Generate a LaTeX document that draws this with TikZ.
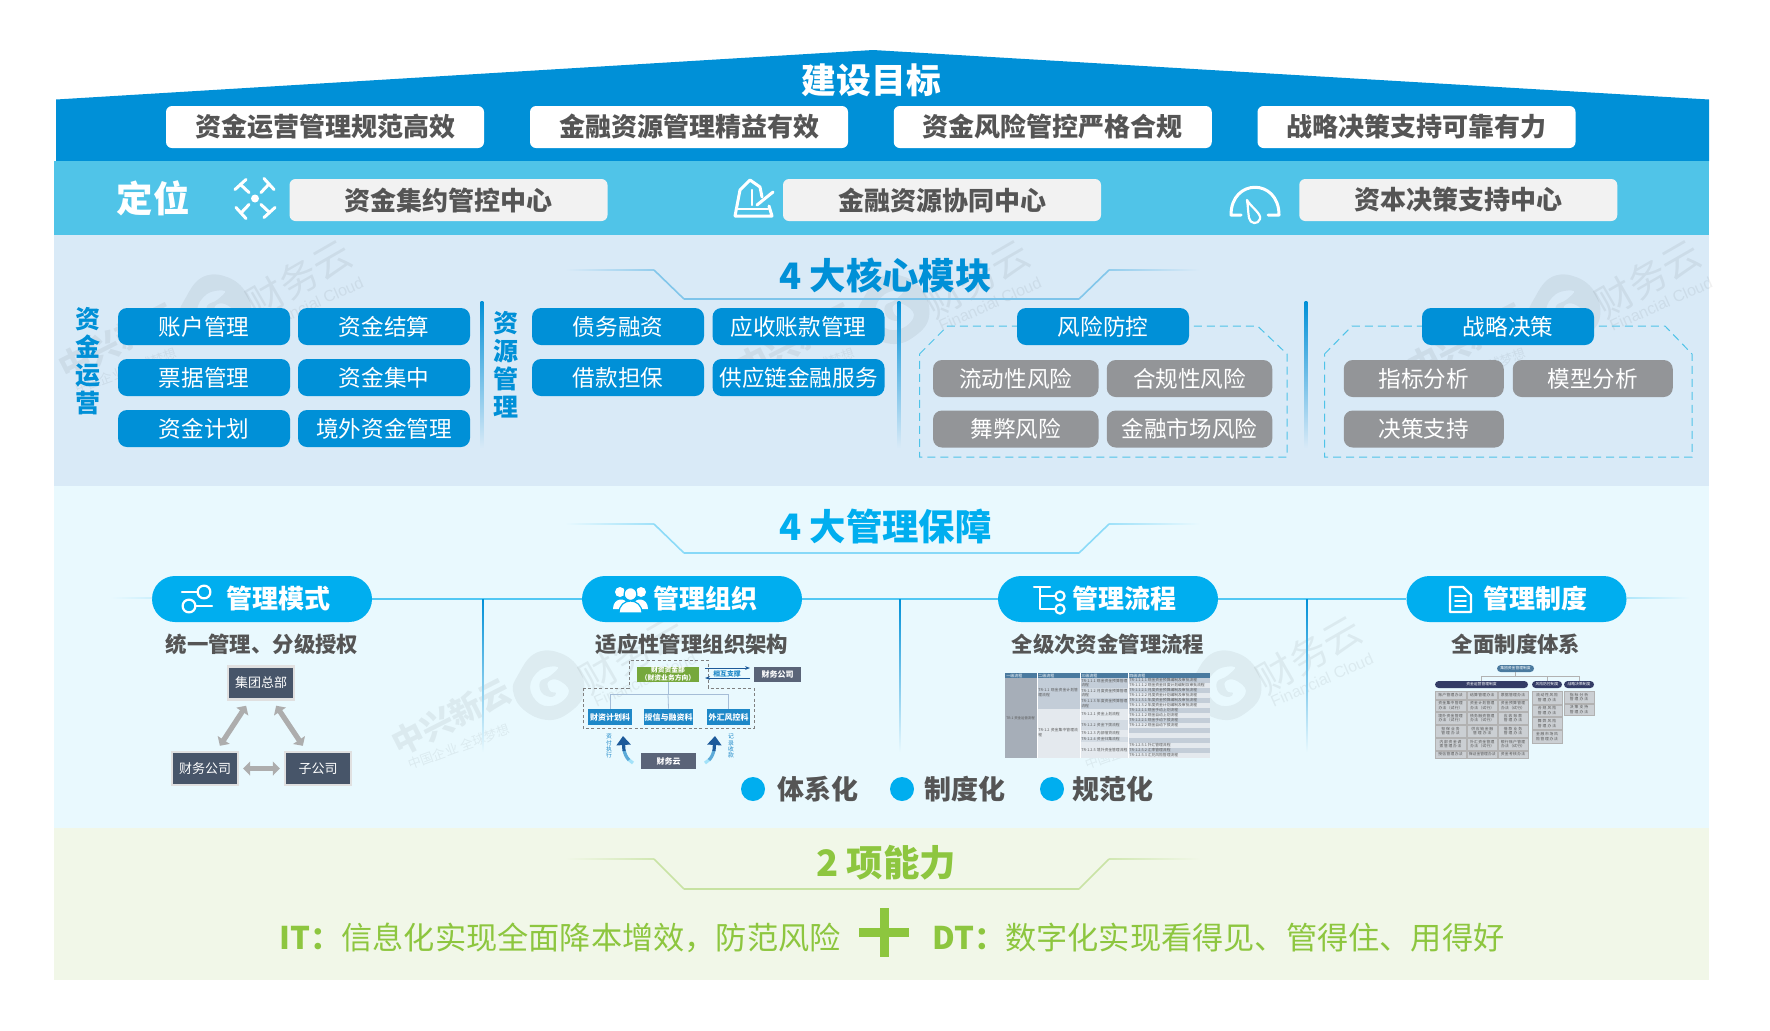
\documentclass[tikz,border=0pt]{standalone}
\usepackage{fontspec}
\setmainfont{Noto Sans CJK SC}
\newfontfamily\latinwm{Liberation Sans}
\XeTeXlinebreaklocale "zh"
\XeTeXlinebreakskip=0pt plus 1pt
\usetikzlibrary{arrows.meta}
\definecolor{cTop}{HTML}{0090D7}
\definecolor{cLight}{HTML}{50C4E8}
\definecolor{cPanelA}{HTML}{D9EAF7}
\definecolor{cPanelB}{HTML}{E9F9FE}
\definecolor{cPanelC}{HTML}{F1F7E8}
\definecolor{cCyan}{HTML}{00AEEF}
\definecolor{cGreen}{HTML}{8DC63F}
\definecolor{cText}{HTML}{555555}
\definecolor{cGrey}{HTML}{939598}
\definecolor{cSlate}{HTML}{475569}
\definecolor{cDash}{HTML}{4FC3E8}
\definecolor{cPosBox}{HTML}{F2F2F2}
\definecolor{cOrgBlue}{HTML}{1E88C8}
\definecolor{cOrgGreen}{HTML}{76A83C}
\definecolor{cOrgGrey}{HTML}{5A6478}
\definecolor{cDeep}{HTML}{1D5A9A}
\definecolor{cHead}{HTML}{4A7A9F}
\definecolor{cRowA}{HTML}{C3CDD8}
\definecolor{cRowB}{HTML}{E4E9EE}
\definecolor{cNavy}{HTML}{343C66}
\definecolor{cPol}{HTML}{CBCFD3}
\newcommand\fs[1]{\fontsize{#1}{#1}\selectfont}
\newcommand\hfade[6]{\shade[left color=#4,right color=#5] (#1,#3-#6) rectangle (#2,#3+#6);}
\newcommand\vdrop[6]{\shade[top color=#4,middle color=#4,bottom color=#5] (#1-#6,#2) rectangle (#1+#6,#3);}
% ytop ybot colour background
\newcommand\trapline[4]{%
  \hfade{565}{654}{#1}{#4}{#3!32!#4}{.9}
  \hfade{1109}{1200}{#1}{#3!32!#4}{#4}{.9}
  \draw[#3!40!#4,line width=.8pt] (654,#1) -- (684,#2);
  \draw[#3!40!#4,line width=.8pt] (1109,#1) -- (1079,#2);
  \shade[left color=#3!42!#4,middle color=#3!85!#4,right color=#3!42!#4] (684,#2-.9) rectangle (1079,#2+.9);}
% id, logo x, logo y
\newcommand\wmstamp[3]{%
  \begin{scope}[shift={(#2,#3)}]
    \fill[black,opacity=.05,even odd rule,smooth cycle,tension=.7]
      plot coordinates {(-30,-10)(-14,-31)(9,-33)(30,-18)(36,8)(22,27)(0,35)(-24,25)(-35,6)}
      plot coordinates {(10,-18)(-8,-15)(-18,2)(-8,19)(10,19)(21,6)(10,-5)(0,-3)(2,6)(8,8)(4,12)(-6,8)(-8,-3)(2,-9)};
    \node[black,opacity=.06,rotate=30,font=\fs{19}] (wm#1a) at (84,-30) {财务云};
    \node[black,opacity=.06,rotate=24,font=\latinwm\fs{8}] (wm#1b) at (97,-5) {Financial Cloud};
    \node[black,opacity=.06,rotate=27,font=\bfseries\fs{16}] (wm#1c) at (-97,32) {中兴新云};
    \node[black,opacity=.06,rotate=20,font=\fs{6.5}] (wm#1d) at (-89,62) {中国企业\ 全球梦想};
  \end{scope}}
\newcommand\polcell[6]{\draw[fill=cPol,draw=black!30,line width=.2pt] (#2,#3) rectangle (#4,#5) node[midway,text=cText,font=\fontsize{1.9}{2.4}\selectfont,text width=13.5pt,align=center,inner sep=0] (pc#1) {#6};}
\tikzset{
  x=0.5pt,y=-0.5pt,
  goalbox/.style={fill=white,rounded corners=3pt,minimum width=159pt,minimum height=21pt,inner sep=0,text=cText,font=\bfseries\fs{13}},
  posbox/.style={fill=cPosBox,rounded corners=3pt,minimum width=159pt,minimum height=21pt,inner sep=0,text=cText,font=\bfseries\fs{13}},
  bluepill/.style={fill=cTop,rounded corners=4.5pt,minimum width=86pt,minimum height=18.5pt,inner sep=0,text=white,font=\fs{11.3}},
  greypill/.style={fill=cGrey,rounded corners=4.5pt,minimum height=18.5pt,inner sep=0,text=white,font=\fs{11.3}},
  head/.style={font=\bfseries\fs{18.2},inner sep=0},
  sidelabel/.style={text=cTop,align=center,inner sep=0,font=\bfseries\fontsize{12.5}{14}\selectfont},
  dashpoly/.style={draw=cDash,line width=.5pt,dash pattern=on 4pt off 2.5pt},
  mgpill/.style={fill=cCyan,rounded corners=11.5pt,minimum width=110pt,minimum height=23pt,inner sep=0},
  mgtext/.style={text=white,font=\bfseries\fs{13},inner sep=0},
  mgline/.style={draw=cCyan!65!cPanelB,line width=.8pt},
  subt/.style={text=cText,font=\bfseries\fs{10.7},inner sep=0},
  hqbox/.style={fill=cSlate,draw=black!12,line width=1.2pt,minimum width=33pt,minimum height=16.5pt,inner sep=0,text=white,font=\fs{6.5}},
  dbl/.style={draw=black!32,line width=2.6pt,{Triangle[length=3.5pt,width=7pt]}-{Triangle[length=3.5pt,width=7pt]}},
  icon/.style={draw=white,line width=1.5pt,line cap=round,line join=round},
  iconthin/.style={draw=white,line width=1.1pt,line cap=round,line join=round},
  tiny/.style={inner sep=0,text=white,font=\bfseries\fs{4}},
  treeline/.style={draw=cDeep!40,line width=.4pt},
  bullet/.style={fill=cCyan,circle,minimum size=12pt,inner sep=0},
  bullettext/.style={text=cText,font=\bfseries\fs{13.5},inner sep=0},
}
\begin{document}
\begin{tikzpicture}
\useasboundingbox (0,0) rectangle (1770,1030);
\fill[white] (0,0) rectangle (1770,1030);
% bands
\fill[cTop] (56,99.5) -- (873,50) -- (1709,99.5) -- (1709,161) -- (56,161) -- cycle;
\fill[cLight] (54,161) rectangle (1709,235);
\fill[cPanelA] (54,235) rectangle (1709,485.5);
\fill[cPanelB] (54,485.5) rectangle (1709,828);
\fill[cPanelC] (54,828) rectangle (1709,980);
% watermarks
\wmstamp{a}{215}{309}
\wmstamp{b}{893}{309}
\wmstamp{c}{1564}{309}
\wmstamp{d}{548}{685}
\wmstamp{e}{1225}{685}
% goals
\node[head,text=white,font=\bfseries\fs{17.4}] (goal) at (871.5,80) {建设目标};
\node[goalbox] (g1) at (325,127) {资金运营管理规范高效};
\node[goalbox] (g2) at (689,127) {金融资源管理精益有效};
\node[goalbox] (g3) at (1052.75,127) {资金风险管控严格合规};
\node[goalbox] (g4) at (1416.5,127) {战略决策支持可靠有力};
% positioning
\node[head,text=white] (dw) at (153,198) {定位};
\node[posbox] (c1) at (448.5,200) {资金集约管控中心};
\node[posbox] (c2) at (942,200) {金融资源协同中心};
\node[posbox] (c3) at (1458.25,200) {资本决策支持中心};
% icon: focus
\foreach \a in {0,90,180,270}{
  \begin{scope}[shift={(255,198.5)},rotate=\a]
    \draw[icon] (-20,-9) -- (-9,-19);
    \draw[icon] (-14.5,-14) -- (-6,-6);
  \end{scope}}
\fill[white] (255,198.5) circle (2pt);
% icon: metronome
\draw[icon] (735,216) -- (740,190) -- (750,180) -- (760,187) -- (762,197);
\draw[icon] (735,216) -- (772,216) -- (769,206);
\draw[iconthin] (738,209) -- (768,209);
\draw[iconthin] (752,190) -- (752,205);
\draw[icon] (757,205) -- (773,192);
% icon: gauge
\draw[icon] (1241,215) -- (1231,215) .. controls (1231,178) and (1279,178) .. (1279,215) -- (1268,215);
\draw[iconthin] (1247,200) .. controls (1250,206) and (1262,214) .. (1260,219) .. controls (1258,225) and (1250,224) .. (1249,218) .. controls (1248,212) and (1248,206) .. (1247,200) -- cycle;
% section 1
\trapline{270}{299}{cTop}{cPanelA}
\node[head,text=cTop] (t1) at (885.5,275) {4 大核心模块};
\node[sidelabel] (s1) at (88,361) {资\\金\\运\\营};
\node[sidelabel] (s2) at (506,364.5) {资\\源\\管\\理};
\vdrop{482}{301}{448}{cTop}{cPanelA}{1.3}
\vdrop{899}{301}{448}{cTop}{cPanelA}{1.3}
\vdrop{1306}{301}{448}{cTop}{cPanelA}{1.3}
\foreach \nm/\cx/\cy/\tx in {
  a1/204/326.5/账户管理,a2/384/326.5/资金结算,
  a3/204/377.5/票据管理,a4/384/377.5/资金集中,
  a5/204/428.5/资金计划,a6/384/428.5/境外资金管理,
  b1/618/326.5/债务融资,b2/798.5/326.5/应收账款管理,
  b3/618/377.5/借款担保,b4/798.5/377.5/供应链金融服务}{
  \node[bluepill] (\nm) at (\cx,\cy) {\tx};}
\draw[dashpoly] (919.5,354) -- (947.5,326) -- (1257.5,326) -- (1287,354) -- (1287,457) -- (919.5,457) -- cycle;
\draw[dashpoly] (1324.5,354) -- (1352,326) -- (1665,326) -- (1692,354) -- (1692,457) -- (1324.5,457) -- cycle;
\node[bluepill] (r0) at (1103,326.5) {风险防控};
\node[bluepill] (d0) at (1508,326.5) {战略决策};
\foreach \nm/\cx/\cy/\tx in {
  r1/1015.75/378.5/流动性风险,r2/1189.5/378.5/合规性风险,
  r3/1015.75/429/舞弊风险,r4/1189.5/429/金融市场风险}{
  \node[greypill,minimum width=82.75pt] (\nm) at (\cx,\cy) {\tx};}
\foreach \nm/\cx/\cy/\tx in {
  d1/1423.75/378.5/指标分析,d2/1592.75/378.5/模型分析,d3/1423.75/429/决策支持}{
  \node[greypill,minimum width=80pt] (\nm) at (\cx,\cy) {\tx};}
% section 2
\trapline{524}{553}{cCyan}{cPanelB}
\node[head,text=cCyan] (t2) at (885.5,527) {4 大管理保障};
\node[mgpill] (m1) at (262,599) {};
\node[mgpill] (m2) at (692,599) {};
\node[mgpill] (m3) at (1108,599) {};
\node[mgpill] (m4) at (1516.5,599) {};
\hfade{110}{152}{598}{cPanelB}{cCyan!12!cPanelB}{.8}
\hfade{1627}{1690}{598}{cCyan!25!cPanelB}{cPanelB}{.8}
\draw[mgline] (m1.east) -- (m2.west);
\draw[mgline] (m2.east) -- (m3.west);
\draw[mgline] (m3.east) -- (m4.west);
\vdrop{483}{599}{752}{cTop}{cPanelB}{.8}
\vdrop{900}{599}{752}{cTop}{cPanelB}{.8}
\vdrop{1307}{599}{752}{cTop}{cPanelB}{.8}
\node[mgtext] (m1t) at (278,598.5) {管理模式};
\node[mgtext] (m2t) at (705,598.5) {管理组织};
\node[mgtext] (m3t) at (1124,598.5) {管理流程};
\node[mgtext] (m4t) at (1535,598.5) {管理制度};
% pill icons
\draw[iconthin] (204,592) circle (3.2pt);
\draw[iconthin] (189,606) circle (3.2pt);
\draw[iconthin] (182,592) -- (197,592);
\draw[iconthin] (196,606) -- (212,606);
\fill[white] (620,592) circle (2.5pt) (641,592) circle (2.5pt);
\fill[white] (613,609) .. controls (613,597) and (627,597) .. (627,605) -- (627,609) -- cycle;
\fill[white] (648,609) .. controls (648,597) and (634,597) .. (634,605) -- (634,609) -- cycle;
\fill[white,draw=cCyan,line width=.6pt] (630.5,594) circle (3.2pt);
\fill[white,draw=cCyan,line width=.6pt] (619,613) .. controls (619,597) and (642,597) .. (642,613) -- cycle;
\draw[iconthin] (1034,587) -- (1050,587);
\draw[iconthin] (1040,587) -- (1040,609) -- (1055,609);
\draw[iconthin] (1041,596) -- (1055,596);
\draw[iconthin] (1060,596) circle (2.3pt);
\draw[iconthin] (1060,609) circle (2.3pt);
\draw[iconthin] (1450,587) -- (1463,587) -- (1471,595) -- (1471,612) -- (1450,612) -- cycle;
\draw[iconthin,line width=.8pt] (1455,596) -- (1466,596) (1455,601) -- (1466,601) (1455,606) -- (1466,606);
% subtitles
\node[subt] (st1) at (262,644) {统一管理、分级授权};
\node[subt] (st2) at (692,644) {适应性管理组织架构};
\node[subt] (st3) at (1108,644) {全级次资金管理流程};
\node[subt] (st4) at (1516,644) {全面制度体系};
% org chart 1
\node[hqbox] (hq) at (261,683) {集团总部};
\node[hqbox] (fc) at (205,768.5) {财务公司};
\node[hqbox] (sub) at (318,768.5) {子公司};
\draw[dbl,shorten <=3pt,shorten >=3pt] (hq) -- (fc);
\draw[dbl,shorten <=3pt,shorten >=3pt] (hq) -- (sub);
\draw[dbl,shorten <=2pt,shorten >=2pt] (fc) -- (sub);
% org chart 2
\draw[black!50,line width=.4pt,dash pattern=on 1.5pt off 1.2pt] (583,688) -- (629,688) -- (629,660) -- (708,660) -- (708,688) -- (754,688) -- (754,728) -- (583,728) -- cycle;
\node[fill=cOrgGreen,minimum width=31pt,minimum height=7.5pt,inner sep=0,align=center,text=white,font=\bfseries\fontsize{3.4}{3.8}\selectfont] (og) at (668,674) {财资资金部\\（财资业务方向）};
\node[fill=cOrgGrey,minimum width=23.5pt,minimum height=7.5pt,tiny] (ofc) at (777.5,674) {财务公司};
\node[fill=cOrgBlue,minimum width=22pt,minimum height=8pt,tiny] (o1) at (610,717) {财资计划科};
\node[fill=cOrgBlue,minimum width=24.5pt,minimum height=8pt,tiny] (o2) at (668.5,717) {授信与融资科};
\node[fill=cOrgBlue,minimum width=21.5pt,minimum height=8pt,tiny] (o3) at (728.5,717) {外汇风控科};
\node[fill=cOrgGrey,minimum width=27.5pt,minimum height=8pt,tiny] (oy) at (668.5,761) {财务云};
\coordinate (ot) at (668,694);
\draw[treeline] (og.south) -- (ot);
\draw[treeline] (o1.north) |- (ot);
\draw[treeline] (o3.north) |- (ot);
\draw[treeline] (o2.north) -- (ot);
\coordinate (oa) at (705,668); \coordinate (ob) at (750,668);
\coordinate (oc) at (750,678); \coordinate (od) at (705,678);
\draw[cDeep,line width=.5pt,-{Stealth[length=2.5pt]}] (oa) -- (ob);
\draw[cDeep,line width=.5pt,-{Stealth[length=2.5pt]}] (oc) -- (od);
\node[inner sep=0,text=cOrgBlue,font=\bfseries\fs{3.4}] (ol) at (727,674) {相互支撑};
\coordinate (ola) at (623,736); \coordinate (ora) at (715,736);
\draw[cCyan!30!cPanelB,line width=1.6pt] (633,763) -- (628,759);
\draw[cOrgBlue!70!cPanelB,line width=1.6pt] (629,760) .. controls (626,757) and (625,754) .. (624,750);
\draw[cDeep,line width=1.6pt,-{Triangle[length=4.5pt,width=7pt]}] (624,751) -- (ola);
\draw[cCyan!30!cPanelB,line width=1.6pt] (705,763) -- (710,759);
\draw[cOrgBlue!70!cPanelB,line width=1.6pt] (709,760) .. controls (712,757) and (713,754) .. (714,750);
\draw[cDeep,line width=1.6pt,-{Triangle[length=4.5pt,width=7pt]}] (714,751) -- (ora);
\node[inner sep=0,text=cOrgBlue,align=center,font=\fontsize{2.9}{3.1}\selectfont] (ov1) at (609,746) {资\\付\\执\\行};
\node[inner sep=0,text=cOrgBlue,align=center,font=\fontsize{2.9}{3.1}\selectfont] (ov2) at (731,746) {记\\录\\收\\款};
% bullets
\node[bullet] (b1c) at (753,789) {};
\node[bullettext,anchor=west] (b1t) at (777,789) {体系化};
\node[bullet] (b2c) at (902,789) {};
\node[bullettext,anchor=west] (b2t) at (924,789) {制度化};
\node[bullet] (b3c) at (1052,789) {};
\node[bullettext,anchor=west] (b3t) at (1072,789) {规范化};
% process table
\fill[cHead] (1005,673) rectangle (1210,678);
\foreach \hx/\hn/\htx in {1006/1/一级流程,1038/2/二级流程,1081/3/三级流程,1129/4/四级流程}{
  \node[anchor=west,inner sep=0,text=white,font=\fs{2}] (th\hn) at (\hx,675.5) {\htx};}
\fill[cRowA!85!black] (1005,678) rectangle (1037,758);
\fill[cRowA] (1037,678) rectangle (1080,709);
\fill[cRowB] (1037,709) rectangle (1080,758);
\foreach \yt/\yb/\cc in {678/688/cRowA,688/698/cRowA!50!cRowB,698/709/cRowA,709/720/cRowB,720/730/cRowA!50!cRowB,730/737/cRowB,737/742/cRowA!50!cRowB,742/758/cRowB}{
  \fill[\cc] (1080,\yt) rectangle (1128,\yb);}
\foreach \n in {0,...,15}{
  \pgfmathtruncatemacro\rem{mod(\n,2)}
  \ifnum\rem=0 \fill[cRowA] (1128,678+5*\n) rectangle (1210,683+5*\n);
  \else \fill[cRowB] (1128,678+5*\n) rectangle (1210,683+5*\n); \fi}
\draw[white,line width=.3pt] (1037,673) -- (1037,758) (1080,673) -- (1080,758) (1128,673) -- (1128,758);
\node[anchor=west,inner sep=0,text=black!65,font=\fs{1.7}] (tc1) at (1006,718) {TR-1 资金运营流程};
\node[anchor=west,inner sep=0,text=black!65,font=\fontsize{1.9}{2.5}\selectfont,text width=20pt,align=left] (tc2) at (1038,693) {TR-1.1 现金资金计划管理流程};
\node[anchor=west,inner sep=0,text=black!65,font=\fontsize{1.9}{2.5}\selectfont,text width=20pt,align=left] (tc3) at (1038,733) {TR-1.2 资金集中管理流程};
\foreach \n/\ty/\ttx in {1/683/TR-1.1.1 现金资金预算管理流程,2/693/TR-1.1.2 月度资金预算管理流程,3/703.5/TR-1.1.3 年度资金预算管理流程,4/714.5/TR-1.2.1 资金上划流程,5/725/TR-1.2.2 资金下拨流程,6/733.5/TR-1.2.3 内部借贷流程,7/739.5/TR-1.2.4 资金归集流程,8/750/TR-1.2.5 境外资金管理流程}{
  \node[anchor=west,inner sep=0,text=black!65,font=\fontsize{1.9}{2.4}\selectfont,text width=23pt,align=left] (tk\n) at (1081,\ty) {\ttx};}
\foreach \n/\ttx in {0/TR-1.1.1.1 现金资金预算编制及审批流程,1/TR-1.1.1.2 现金资金日度计划编制及审批流程,2/TR-1.1.2.1 月度资金预算编制及审批流程,3/TR-1.1.2.2 月度资金计划编制及审批流程,4/TR-1.1.3.1 年度资金预算编制及审批流程,5/TR-1.1.3.2 年度资金计划编制及审批流程,6/TR-1.2.1.1 现金手动上划流程,7/TR-1.2.1.2 现金自动上划流程,8/TR-1.2.2.1 现金手动下拨流程,9/TR-1.2.2.2 现金自动下拨流程,13/TR-1.2.5.1 外汇管理流程,14/TR-1.2.5.2 汇率管理流程,15/TR-1.2.5.3 汇兑风险管理流程}{
  \node[anchor=west,inner sep=0,text=black!65,font=\fs{1.9}] (tl\n) at (1129,680.5+5*\n) {\ttx};}
% policy chart
\node[fill=cHead,rounded corners=1.8pt,minimum width=18.5pt,minimum height=3.5pt,inner sep=0,text=white,font=\fs{1.9}] (pa) at (1515.5,668.5) {集团资金管理制度};
\node[fill=cNavy,rounded corners=1.8pt,minimum width=46.5pt,minimum height=3.5pt,inner sep=0,text=white,font=\fs{1.9}] (pb) at (1481.5,684.5) {资金运营管理制度};
\node[fill=cNavy,rounded corners=1.8pt,minimum width=15pt,minimum height=3.5pt,inner sep=0,text=white,font=\fs{1.9}] (pc) at (1547,684.5) {风险防控制度};
\node[fill=cNavy,rounded corners=1.8pt,minimum width=15pt,minimum height=3.5pt,inner sep=0,text=white,font=\fs{1.9}] (pd) at (1579,684.5) {战略决策制度};
\coordinate (pj) at (1515.5,676);
\draw[black!30,line width=.25pt] (pa.south) -- (pj);
\draw[black!30,line width=.25pt] (pb.north) |- (pj);
\draw[black!30,line width=.25pt] (pd.north) |- (pj);
\draw[black!30,line width=.25pt] (pc.north) |- (pj);
\polcell{a}{1435}{691}{1466}{699}{账户管理办法}
\polcell{b}{1467.5}{691}{1497}{699}{结算管理办法}
\polcell{c}{1498}{691}{1528}{699}{票据管理办法}
\polcell{d}{1435}{700}{1466}{711}{资金集中管理办法（试行）}
\polcell{e}{1467.5}{700}{1497}{711}{资金计划管理办法（试行）}
\polcell{f}{1498}{700}{1528}{711}{资金预算管理办法（试行）}
\polcell{g}{1435}{712}{1466}{724}{境外资金管理办法（试行）}
\polcell{h}{1467.5}{712}{1497}{724}{债务融资管理办法（试行）}
\polcell{i}{1498}{712}{1528}{724}{应收账款管理办法}
\polcell{j}{1435}{725}{1466}{737}{担保业务管理办法}
\polcell{k}{1467.5}{725}{1497}{737}{供应链金融管理办法}
\polcell{l}{1498}{725}{1528}{737}{借款业务管理办法}
\polcell{m}{1435}{738}{1466}{750}{内部资金调拨管理办法}
\polcell{n}{1467.5}{738}{1497}{750}{外汇资金管理办法（试行）}
\polcell{o}{1498}{738}{1528}{750}{银行账户管理办法（试行）}
\polcell{p}{1435}{751}{1466}{758}{授信管理办法}
\polcell{q}{1467.5}{751}{1497}{758}{保证金管理办法}
\polcell{r}{1498}{751}{1528}{758}{资金考核办法}
\polcell{s}{1532}{691}{1562}{704}{流动性风险管理办法}
\polcell{t}{1532}{705}{1562}{716.5}{合规风险管理办法}
\polcell{u}{1532}{717.5}{1562}{729.5}{舞弊风险管理办法}
\polcell{v}{1532}{730.5}{1562}{743}{金融市场风险管理办法}
\polcell{w}{1564}{691}{1594}{703}{指标分析管理办法}
\polcell{x}{1564}{704}{1594}{715.5}{决策支持管理办法}
% section 3
\trapline{859}{889}{cGreen}{cPanelC}
\node[head,text=cGreen] (t3) at (886,863) {2 项能力};
\node[anchor=west,inner sep=0,text=cGreen,font=\fs{15.6}] (it) at (279,938) {\textbf{IT：}信息化实现全面降本增效，防范风险};
\node[anchor=west,inner sep=0,text=cGreen,font=\fs{15.6}] (dt) at (932,938) {\textbf{DT：}数字化实现看得见、管得住、用得好};
\fill[cGreen] (880,908) rectangle (888.5,957);
\fill[cGreen] (859,928) rectangle (909,937);
\end{tikzpicture}
\end{document}
